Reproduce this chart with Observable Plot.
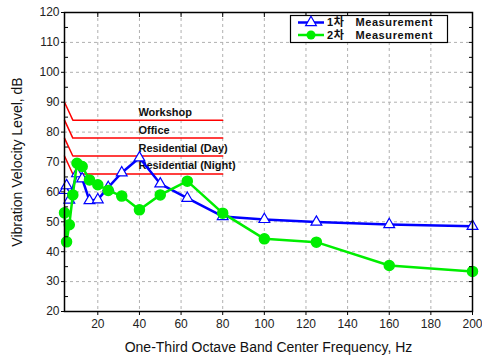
<!DOCTYPE html>
<html><head><meta charset="utf-8">
<script src="https://cdn.jsdelivr.net/npm/d3@7"></script>
<script src="https://cdn.jsdelivr.net/npm/@observablehq/plot@0.6"></script>
<style>
body{margin:0;background:#fff;font-family:"Liberation Sans","Noto Sans CJK KR",Arial,sans-serif}
</style>
</head><body><div id="chart"></div>
<script>
// 1/3-octave band centre frequencies (Hz)
const freq1 = [4,5,6.3,10,12.5,16,20,25,31.5,40,50,63,80,100,125,160,200];
const level1 = [60.5,62.1,57.3,66.1,64.4,57.1,57.4,61.5,66.4,71.4,62.7,57.9,51.8,50.8,49.9,49.1,48.5];
const freq2 = [4,5,6.3,8,10,12.5,16,20,25,31.5,40,50,63,80,100,125,160,200];
const level2 = [53,43.3,49,59,69.6,68.5,64,62.4,60.5,58.6,54,59,63.6,52.9,44.3,43.2,35.4,33.4];
const seriesNames = ["1차   Measurement", "2차   Measurement"];

// vibration criteria (flat part from 8 to 80 Hz, +6 dB at 4 Hz)
const criteriaNames = ["Workshop","Office","Residential (Day)","Residential (Night)"];
const criteriaLevels = [84,78,72,66];
const criteriaFreq = [4,8,80];
const criteriaOffset = [6,0,0];

const xTicks = [20,40,60,80,100,120,140,160,180,200];
const yTicks = [20,30,40,50,60,70,80,90,100,110,120];
const yMinor = [25,35,45,55,65,75,85,95,105,115];
const xLabel = "One-Third Octave Band Center Frequency, Hz";
const yLabel = "Vibration Velocity Level, dB";

const s1 = freq1.map((f,i)=>({f, v: level1[i]}));
const s2 = freq2.map((f,i)=>({f, v: level2[i]}));
const crit = criteriaNames.flatMap((name,j)=>criteriaFreq.map((f,k)=>({name, f, v: criteriaLevels[j]+criteriaOffset[k]})));
const critLabels = criteriaNames.map((name,j)=>({name, f:40, v: criteriaLevels[j]}));

const BLUE = "#0000ff", GREEN = "#00ee00", RED = "#ff0000";
const font = '"Liberation Sans", "Noto Sans CJK KR", Arial, sans-serif';

const chart = Plot.plot({
  width: 482, height: 361,
  marginLeft: 64, marginRight: 10, marginTop: 12, marginBottom: 50,
  style: {fontFamily: font, fontSize: "12px", color: "#000", background: "#fff"},
  x: {domain: [4,200]},
  y: {domain: [20,120]},
  marks: [
    Plot.gridX(xTicks.slice(0,-1), {stroke:"#b0b0b0", strokeOpacity:1, strokeDasharray:"3,3"}),
    Plot.gridY(yTicks.slice(1,-1), {stroke:"#b0b0b0", strokeOpacity:1, strokeDasharray:"3,3"}),
    Plot.line(crit, {x:"f", y:"v", z:"name", stroke:RED, strokeWidth:1.5}),
    Plot.text(critLabels, {x:"f", y:"v", text:"name", textAnchor:"start", dy:-8, dx:-1, fontSize:11, fontWeight:"bold", fill:"#111"}),
    Plot.line(s1, {x:"f", y:"v", stroke:BLUE, strokeWidth:2.5}),
    Plot.dot(s1, {x:"f", y:"v", symbol:"triangle", r:4, stroke:BLUE, strokeWidth:1.2, fill:"#fff"}),
    Plot.line(s2, {x:"f", y:"v", stroke:GREEN, strokeWidth:2.5}),
    Plot.dot(s2, {x:"f", y:"v", r:5, fill:GREEN, stroke:GREEN}),
    Plot.frame({stroke:"#000", strokeWidth:1.5}),
    Plot.axisX({ticks:xTicks, tickSize:4, tickPadding:4, fontSize:12, fill:"#222", label:null}),
    Plot.axisX({anchor:"top", ticks:xTicks, tickSize:-4, tickFormat:()=>"", label:null}),
    Plot.axisY({ticks:yTicks, tickSize:3, tickPadding:2, fontSize:12, fill:"#222", label:null}),
    Plot.axisY({ticks:yMinor, tickSize:-4, tickFormat:()=>"", label:null}),
    Plot.axisY({anchor:"right", ticks:yTicks.concat(yMinor), tickSize:-4, tickFormat:()=>"", label:null}),
    Plot.text([xLabel], {frameAnchor:"bottom", dy:40, fontSize:14, fill:"#111", textAnchor:"middle"}),
    Plot.text([yLabel], {frameAnchor:"left", dx:-47, rotate:-90, fontSize:14, fill:"#111", textAnchor:"middle"})
  ]
});
document.getElementById("chart").appendChild(chart);

// legend
const svg = d3.select(chart);
const lg = svg.append("g").attr("font-family", font).attr("text-anchor","start");
lg.append("rect").attr("x",290.5).attr("y",15.5).attr("width",157).attr("height",27)
  .attr("fill","#fff").attr("stroke","#000").attr("stroke-width",1.2);
[[BLUE,"tri"],[GREEN,"dot"]].forEach(([c,sym],i)=>{
  const y = 22.5 + i*12.5;
  lg.append("line").attr("x1",298).attr("x2",324).attr("y1",y).attr("y2",y).attr("stroke",c).attr("stroke-width",2.5);
  if (sym==="tri") lg.append("path").attr("d",d3.symbol(d3.symbolTriangle, 50)()).attr("transform",`translate(311,${y})`).attr("fill","#fff").attr("stroke",c).attr("stroke-width",1.2);
  else lg.append("circle").attr("cx",311).attr("cy",y).attr("r",4.5).attr("fill",c);
  lg.append("text").attr("x",327).attr("y",y).attr("dy","0.36em").attr("text-anchor","start")
    .attr("font-size",11).attr("letter-spacing","0.6").attr("font-weight","bold").attr("fill","#111")
    .style("white-space","pre").text(seriesNames[i]);
});
</script>
</body></html>
